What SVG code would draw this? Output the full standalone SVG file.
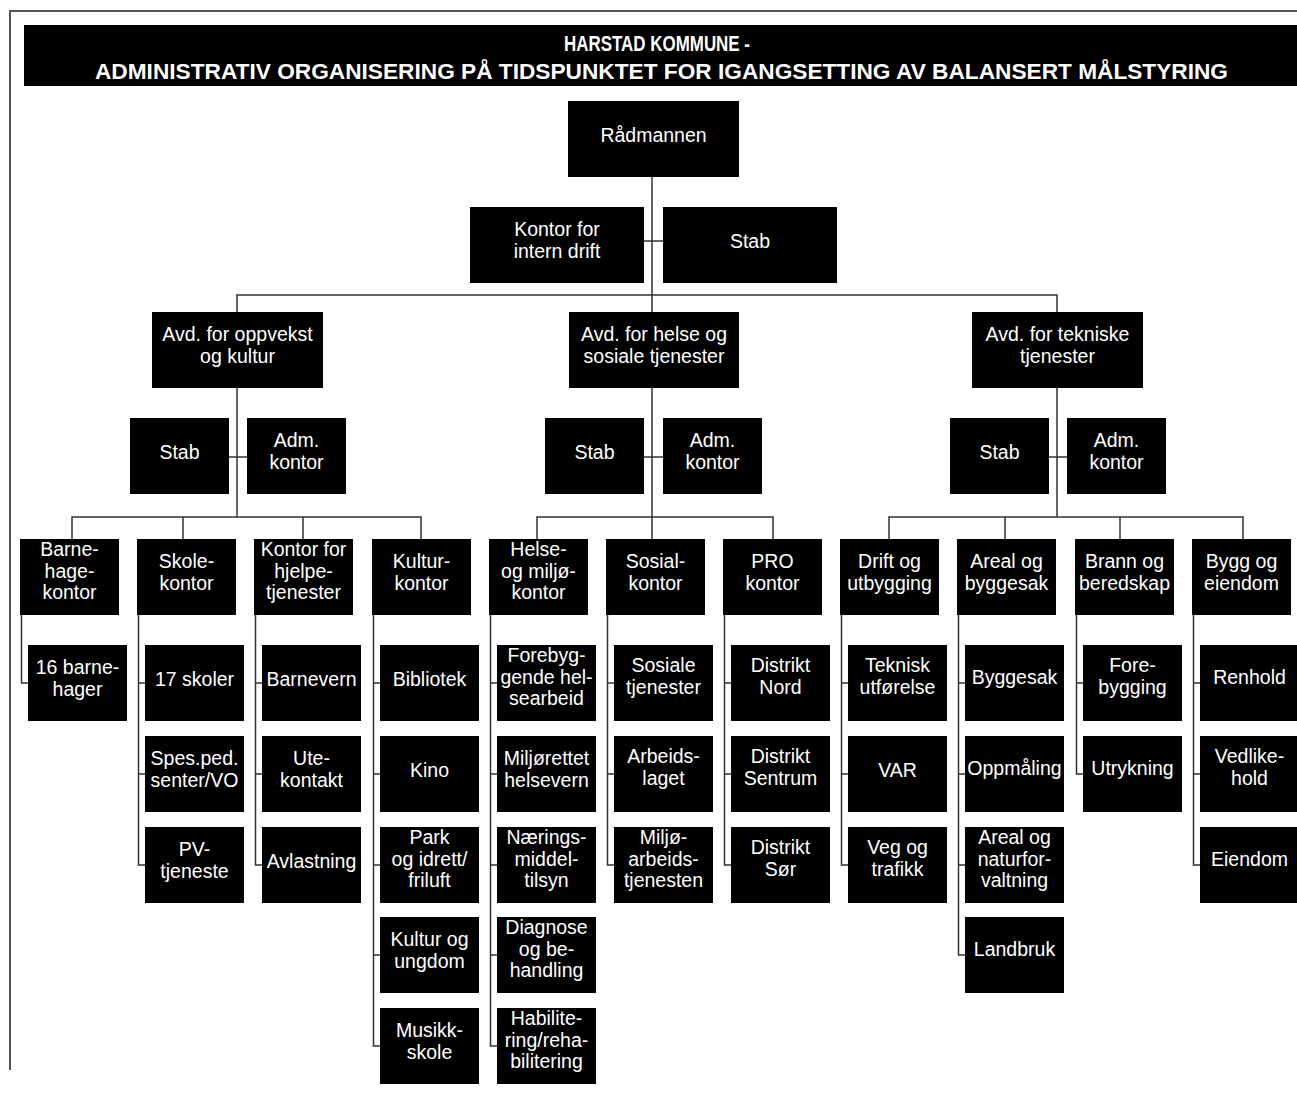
<svg xmlns="http://www.w3.org/2000/svg" width="1297" height="1098" viewBox="0 0 1297 1098">
<style>
.bg{fill:#ffffff}
.frame{fill:none;stroke:#555555;stroke-width:2}
.box{fill:#000000}
.t{fill:#ffffff;font-family:"Liberation Sans",Arial,sans-serif;font-size:19.5px;text-anchor:middle}
.title{fill:#ffffff;font-family:"Liberation Sans",Arial,sans-serif;font-size:22.5px;font-weight:bold;text-anchor:middle}
.c{fill:none;stroke:#333333;stroke-width:1.5}
</style>
<rect class="bg" x="0" y="0" width="1297" height="1098"/>
<path class="frame" d="M10 1070 V11 H1297"/>
<g id="title">
<rect class="box" x="24" y="25" width="1273" height="61"/>
<text class="title" x="657" y="51" textLength="186" lengthAdjust="spacingAndGlyphs">HARSTAD KOMMUNE -</text>
<text class="title" x="661.5" y="79" textLength="1133" lengthAdjust="spacingAndGlyphs">ADMINISTRATIV ORGANISERING PÅ TIDSPUNKTET FOR IGANGSETTING AV BALANSERT MÅLSTYRING</text>
</g>
<g id="connectors">
<path class="c" d="M652 177 V312"/>
<path class="c" d="M644 241 H663"/>
<path class="c" d="M237 312 V295 H1057 V312"/>
<path class="c" d="M237 388 V517"/>
<path class="c" d="M229 457 H247"/>
<path class="c" d="M72 539 V517 H421 V539"/>
<path class="c" d="M183 517 V539"/>
<path class="c" d="M303 517 V539"/>
<path class="c" d="M652 388 V539"/>
<path class="c" d="M644 457 H663"/>
<path class="c" d="M537 539 V517 H773 V539"/>
<path class="c" d="M1057 388 V517"/>
<path class="c" d="M1049 457 H1067"/>
<path class="c" d="M889 539 V517 H1243 V539"/>
<path class="c" d="M1005 517 V539"/>
<path class="c" d="M1120 517 V539"/>
<path class="c" d="M21.5 615 V683 H28"/>
<path class="c" d="M138.5 615 V865 H145 M138.5 683 H145 M138.5 774 H145"/>
<path class="c" d="M255.5 615 V865 H262 M255.5 683 H262 M255.5 774 H262"/>
<path class="c" d="M373.5 615 V1046 H380 M373.5 683 H380 M373.5 774 H380 M373.5 865 H380 M373.5 955 H380"/>
<path class="c" d="M490.5 615 V1046 H497 M490.5 683 H497 M490.5 774 H497 M490.5 865 H497 M490.5 955 H497"/>
<path class="c" d="M607.5 615 V865 H614 M607.5 683 H614 M607.5 774 H614"/>
<path class="c" d="M724.5 615 V865 H731 M724.5 683 H731 M724.5 774 H731"/>
<path class="c" d="M841.5 615 V865 H848 M841.5 683 H848 M841.5 774 H848"/>
<path class="c" d="M958.5 615 V955 H965 M958.5 683 H965 M958.5 774 H965 M958.5 865 H965"/>
<path class="c" d="M1076.5 615 V774 H1083 M1076.5 683 H1083"/>
<path class="c" d="M1193.5 615 V865 H1200 M1193.5 683 H1200 M1193.5 774 H1200"/>
</g>
<g id="n-radmannen"><rect class="box" x="568" y="101" width="171" height="76"/><text class="t" x="653.5" y="142">Rådmannen</text></g>
<g id="n-intern"><rect class="box" x="470" y="207" width="174" height="76"/><text class="t" x="557" y="236">Kontor for<tspan x="557" y="257.5">intern drift</tspan></text></g>
<g id="n-stab0"><rect class="box" x="663" y="207" width="174" height="76"/><text class="t" x="750" y="248">Stab</text></g>
<g id="n-oppvekst"><rect class="box" x="152" y="312" width="171" height="76"/><text class="t" x="237.5" y="341">Avd. for oppvekst<tspan x="237.5" y="362.5">og kultur</tspan></text></g>
<g id="n-helse"><rect class="box" x="569" y="312" width="170" height="76"/><text class="t" x="654" y="341">Avd. for helse og<tspan x="654" y="362.5">sosiale tjenester</tspan></text></g>
<g id="n-tekniske"><rect class="box" x="972" y="312" width="171" height="76"/><text class="t" x="1057.5" y="341">Avd. for tekniske<tspan x="1057.5" y="362.5">tjenester</tspan></text></g>
<g id="n-stab1"><rect class="box" x="130" y="418" width="99" height="76"/><text class="t" x="179.5" y="459">Stab</text></g>
<g id="n-adm1"><rect class="box" x="247" y="418" width="99" height="76"/><text class="t" x="296.5" y="447">Adm.<tspan x="296.5" y="468.5">kontor</tspan></text></g>
<g id="n-stab2"><rect class="box" x="545" y="418" width="99" height="76"/><text class="t" x="594.5" y="459">Stab</text></g>
<g id="n-adm2"><rect class="box" x="663" y="418" width="99" height="76"/><text class="t" x="712.5" y="447">Adm.<tspan x="712.5" y="468.5">kontor</tspan></text></g>
<g id="n-stab3"><rect class="box" x="950" y="418" width="99" height="76"/><text class="t" x="999.5" y="459">Stab</text></g>
<g id="n-adm3"><rect class="box" x="1067" y="418" width="99" height="76"/><text class="t" x="1116.5" y="447">Adm.<tspan x="1116.5" y="468.5">kontor</tspan></text></g>
<g id="n-barnehage"><rect class="box" x="20" y="539" width="99" height="76"/><text class="t" x="69.5" y="556">Barne-<tspan x="69.5" y="577.5">hage-</tspan><tspan x="69.5" y="599">kontor</tspan></text></g>
<g id="n-skole"><rect class="box" x="137" y="539" width="99" height="76"/><text class="t" x="186.5" y="568">Skole-<tspan x="186.5" y="589.5">kontor</tspan></text></g>
<g id="n-hjelpe"><rect class="box" x="254" y="539" width="99" height="76"/><text class="t" x="303.5" y="556">Kontor for<tspan x="303.5" y="577.5">hjelpe-</tspan><tspan x="303.5" y="599">tjenester</tspan></text></g>
<g id="n-kultur"><rect class="box" x="372" y="539" width="99" height="76"/><text class="t" x="421.5" y="568">Kultur-<tspan x="421.5" y="589.5">kontor</tspan></text></g>
<g id="n-helsemiljo"><rect class="box" x="489" y="539" width="99" height="76"/><text class="t" x="538.5" y="556">Helse-<tspan x="538.5" y="577.5">og miljø-</tspan><tspan x="538.5" y="599">kontor</tspan></text></g>
<g id="n-sosial"><rect class="box" x="606" y="539" width="99" height="76"/><text class="t" x="655.5" y="568">Sosial-<tspan x="655.5" y="589.5">kontor</tspan></text></g>
<g id="n-pro"><rect class="box" x="723" y="539" width="99" height="76"/><text class="t" x="772.5" y="568">PRO<tspan x="772.5" y="589.5">kontor</tspan></text></g>
<g id="n-drift"><rect class="box" x="840" y="539" width="99" height="76"/><text class="t" x="889.5" y="568">Drift og<tspan x="889.5" y="589.5">utbygging</tspan></text></g>
<g id="n-areal"><rect class="box" x="957" y="539" width="99" height="76"/><text class="t" x="1006.5" y="568">Areal og<tspan x="1006.5" y="589.5">byggesak</tspan></text></g>
<g id="n-brann"><rect class="box" x="1075" y="539" width="99" height="76"/><text class="t" x="1124.5" y="568">Brann og<tspan x="1124.5" y="589.5">beredskap</tspan></text></g>
<g id="n-bygg"><rect class="box" x="1192" y="539" width="99" height="76"/><text class="t" x="1241.5" y="568">Bygg og<tspan x="1241.5" y="589.5">eiendom</tspan></text></g>
<g id="n-16barnehager"><rect class="box" x="28" y="645" width="99" height="76"/><text class="t" x="77.5" y="674">16 barne-<tspan x="77.5" y="695.5">hager</tspan></text></g>
<g id="n-17skoler"><rect class="box" x="145" y="645" width="99" height="76"/><text class="t" x="194.5" y="686">17 skoler</text></g>
<g id="n-spesped"><rect class="box" x="145" y="736" width="99" height="76"/><text class="t" x="194.5" y="765">Spes.ped.<tspan x="194.5" y="786.5">senter/VO</tspan></text></g>
<g id="n-pv"><rect class="box" x="145" y="827" width="99" height="76"/><text class="t" x="194.5" y="856">PV-<tspan x="194.5" y="877.5">tjeneste</tspan></text></g>
<g id="n-barnevern"><rect class="box" x="262" y="645" width="99" height="76"/><text class="t" x="311.5" y="686">Barnevern</text></g>
<g id="n-utekontakt"><rect class="box" x="262" y="736" width="99" height="76"/><text class="t" x="311.5" y="765">Ute-<tspan x="311.5" y="786.5">kontakt</tspan></text></g>
<g id="n-avlastning"><rect class="box" x="262" y="827" width="99" height="76"/><text class="t" x="311.5" y="868">Avlastning</text></g>
<g id="n-bibliotek"><rect class="box" x="380" y="645" width="99" height="76"/><text class="t" x="429.5" y="686">Bibliotek</text></g>
<g id="n-kino"><rect class="box" x="380" y="736" width="99" height="76"/><text class="t" x="429.5" y="777">Kino</text></g>
<g id="n-park"><rect class="box" x="380" y="827" width="99" height="76"/><text class="t" x="429.5" y="844">Park<tspan x="429.5" y="865.5">og idrett/</tspan><tspan x="429.5" y="887">friluft</tspan></text></g>
<g id="n-kulturungdom"><rect class="box" x="380" y="917" width="99" height="76"/><text class="t" x="429.5" y="946">Kultur og<tspan x="429.5" y="967.5">ungdom</tspan></text></g>
<g id="n-musikkskole"><rect class="box" x="380" y="1008" width="99" height="76"/><text class="t" x="429.5" y="1037">Musikk-<tspan x="429.5" y="1058.5">skole</tspan></text></g>
<g id="n-forebyggende"><rect class="box" x="497" y="645" width="99" height="76"/><text class="t" x="546.5" y="662">Forebyg-<tspan x="546.5" y="683.5">gende hel-</tspan><tspan x="546.5" y="705">searbeid</tspan></text></g>
<g id="n-miljorettet"><rect class="box" x="497" y="736" width="99" height="76"/><text class="t" x="546.5" y="765">Miljørettet<tspan x="546.5" y="786.5">helsevern</tspan></text></g>
<g id="n-naeringsmiddel"><rect class="box" x="497" y="827" width="99" height="76"/><text class="t" x="546.5" y="844">Nærings-<tspan x="546.5" y="865.5">middel-</tspan><tspan x="546.5" y="887">tilsyn</tspan></text></g>
<g id="n-diagnose"><rect class="box" x="497" y="917" width="99" height="76"/><text class="t" x="546.5" y="934">Diagnose<tspan x="546.5" y="955.5">og be-</tspan><tspan x="546.5" y="977">handling</tspan></text></g>
<g id="n-habilitering"><rect class="box" x="497" y="1008" width="99" height="76"/><text class="t" x="546.5" y="1025">Habilite-<tspan x="546.5" y="1046.5">ring/reha-</tspan><tspan x="546.5" y="1068">bilitering</tspan></text></g>
<g id="n-sosiale"><rect class="box" x="614" y="645" width="99" height="76"/><text class="t" x="663.5" y="672">Sosiale<tspan x="663.5" y="693.5">tjenester</tspan></text></g>
<g id="n-arbeidslaget"><rect class="box" x="614" y="736" width="99" height="76"/><text class="t" x="663.5" y="763">Arbeids-<tspan x="663.5" y="784.5">laget</tspan></text></g>
<g id="n-miljoarbeid"><rect class="box" x="614" y="827" width="99" height="76"/><text class="t" x="663.5" y="844">Miljø-<tspan x="663.5" y="865.5">arbeids-</tspan><tspan x="663.5" y="887">tjenesten</tspan></text></g>
<g id="n-nord"><rect class="box" x="731" y="645" width="99" height="76"/><text class="t" x="780.5" y="672">Distrikt<tspan x="780.5" y="693.5">Nord</tspan></text></g>
<g id="n-sentrum"><rect class="box" x="731" y="736" width="99" height="76"/><text class="t" x="780.5" y="763">Distrikt<tspan x="780.5" y="784.5">Sentrum</tspan></text></g>
<g id="n-sor"><rect class="box" x="731" y="827" width="99" height="76"/><text class="t" x="780.5" y="854">Distrikt<tspan x="780.5" y="875.5">Sør</tspan></text></g>
<g id="n-teknisk"><rect class="box" x="848" y="645" width="99" height="76"/><text class="t" x="897.5" y="672">Teknisk<tspan x="897.5" y="693.5">utførelse</tspan></text></g>
<g id="n-var"><rect class="box" x="848" y="736" width="99" height="76"/><text class="t" x="897.5" y="777">VAR</text></g>
<g id="n-veg"><rect class="box" x="848" y="827" width="99" height="76"/><text class="t" x="897.5" y="854">Veg og<tspan x="897.5" y="875.5">trafikk</tspan></text></g>
<g id="n-byggesak"><rect class="box" x="965" y="645" width="99" height="76"/><text class="t" x="1014.5" y="684">Byggesak</text></g>
<g id="n-oppmaling"><rect class="box" x="965" y="736" width="99" height="76"/><text class="t" x="1014.5" y="775">Oppmåling</text></g>
<g id="n-arealnatur"><rect class="box" x="965" y="827" width="99" height="76"/><text class="t" x="1014.5" y="844">Areal og<tspan x="1014.5" y="865.5">naturfor-</tspan><tspan x="1014.5" y="887">valtning</tspan></text></g>
<g id="n-landbruk"><rect class="box" x="965" y="917" width="99" height="76"/><text class="t" x="1014.5" y="956">Landbruk</text></g>
<g id="n-forebygging"><rect class="box" x="1083" y="645" width="99" height="76"/><text class="t" x="1132.5" y="672">Fore-<tspan x="1132.5" y="693.5">bygging</tspan></text></g>
<g id="n-utrykning"><rect class="box" x="1083" y="736" width="99" height="76"/><text class="t" x="1132.5" y="775">Utrykning</text></g>
<g id="n-renhold"><rect class="box" x="1200" y="645" width="99" height="76"/><text class="t" x="1249.5" y="684">Renhold</text></g>
<g id="n-vedlikehold"><rect class="box" x="1200" y="736" width="99" height="76"/><text class="t" x="1249.5" y="763">Vedlike-<tspan x="1249.5" y="784.5">hold</tspan></text></g>
<g id="n-eiendom"><rect class="box" x="1200" y="827" width="99" height="76"/><text class="t" x="1249.5" y="866">Eiendom</text></g>
</svg>
